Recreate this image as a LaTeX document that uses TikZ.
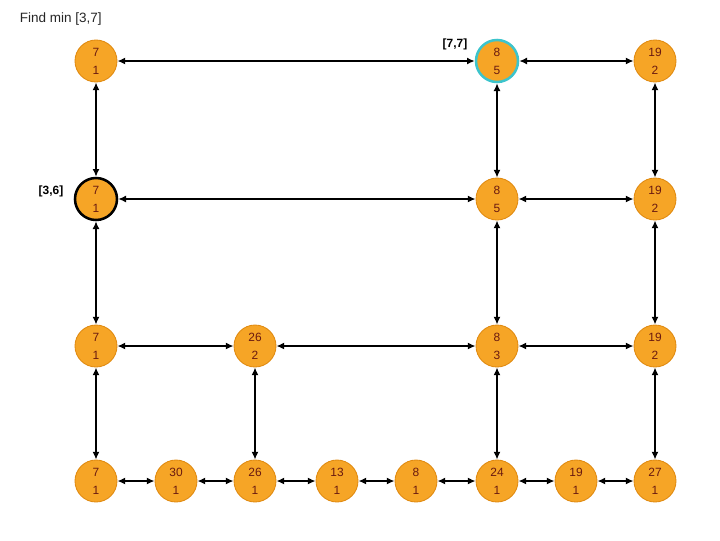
\documentclass[tikz,border=0pt]{standalone}
\usepackage{fontspec}
\setmainfont{Liberation Sans}
\usepackage{xcolor}
\usepackage{tikz}
\usetikzlibrary{arrows.meta}

\definecolor{segfill}{HTML}{F6A526}
\definecolor{segline}{HTML}{E08A10}
\definecolor{segtext}{HTML}{6A1A10}
\definecolor{hitcyan}{HTML}{3CC4CC}

\tikzset{
	seg/.style={circle,fill=segfill,draw=segline,line width=0.6pt,minimum size=1.05cm,inner sep=0pt,
		align=center,text=segtext,font=\fontsize{8.5}{12.8}\selectfont},
	found/.style={seg,draw=hitcyan,line width=1.8pt},
	cover/.style={seg,draw=black,line width=1.8pt},
	tag/.style={font=\fontsize{8.5}{10}\selectfont\bfseries}
}

\begin{document}
\begin{tikzpicture}[x=0.025cm,y=-0.025cm]
		\useasboundingbox (0,0) rectangle (720,540);
		\node[anchor=west,font=\fontsize{9.6}{11}\selectfont,text=black!85] (T) at (15,19) {Find min [3,7]};
		% top level
		\node[seg] (A) at (96,61) {7\\1};
		\node[found] (B) at (497,61) {8\\5};
		\node[seg] (C) at (655,61) {19\\2};
		% second level
		\node[cover] (A') at (96,199) {7\\1};
		\node[seg] (B') at (497,199) {8\\5};
		\node[seg] (C') at (655,199) {19\\2};
		% third level
		\node[seg] (A'') at (96,346) {7\\1};
		\node[seg] (D'') at (255,346) {26\\2};
		\node[seg] (B'') at (497,346) {8\\3};
		\node[seg] (C'') at (655,346) {19\\2};
		% leaves
		\node[seg] (L1) at (96,481) {7\\1};
		\node[seg] (L2) at (176,481) {30\\1};
		\node[seg] (L3) at (255,481) {26\\1};
		\node[seg] (L4) at (337,481) {13\\1};
		\node[seg] (L5) at (416,481) {8\\1};
		\node[seg] (L6) at (497,481) {24\\1};
		\node[seg] (L7) at (576,481) {19\\1};
		\node[seg] (L8) at (655,481) {27\\1};
		% interval tags
		\node[tag] (R77) at (455,44) {[7,7]};
		\node[tag] (R36) at (51,191) {[3,6]};
		%
		\path[{Latex[length=5.5pt,width=5pt]}-{Latex[length=5.5pt,width=5pt]},line width=1.4pt]
		% horizontal arrows
		(A) edge (B)
		(B) edge (C)
		(A') edge (B')
		(B') edge (C')
		(A'') edge (D'')
		(D'') edge (B'')
		(B'') edge (C'')
		(L1) edge (L2)
		(L2) edge (L3)
		(L3) edge (L4)
		(L4) edge (L5)
		(L5) edge (L6)
		(L6) edge (L7)
		(L7) edge (L8)
		% vertical arrows
		(A) edge (A')
		(B) edge (B')
		(C) edge (C')
		(A') edge (A'')
		(B') edge (B'')
		(C') edge (C'')
		(A'') edge (L1)
		(D'') edge (L3)
		(B'') edge (L6)
		(C'') edge (L8);
	\end{tikzpicture}
\end{document}
